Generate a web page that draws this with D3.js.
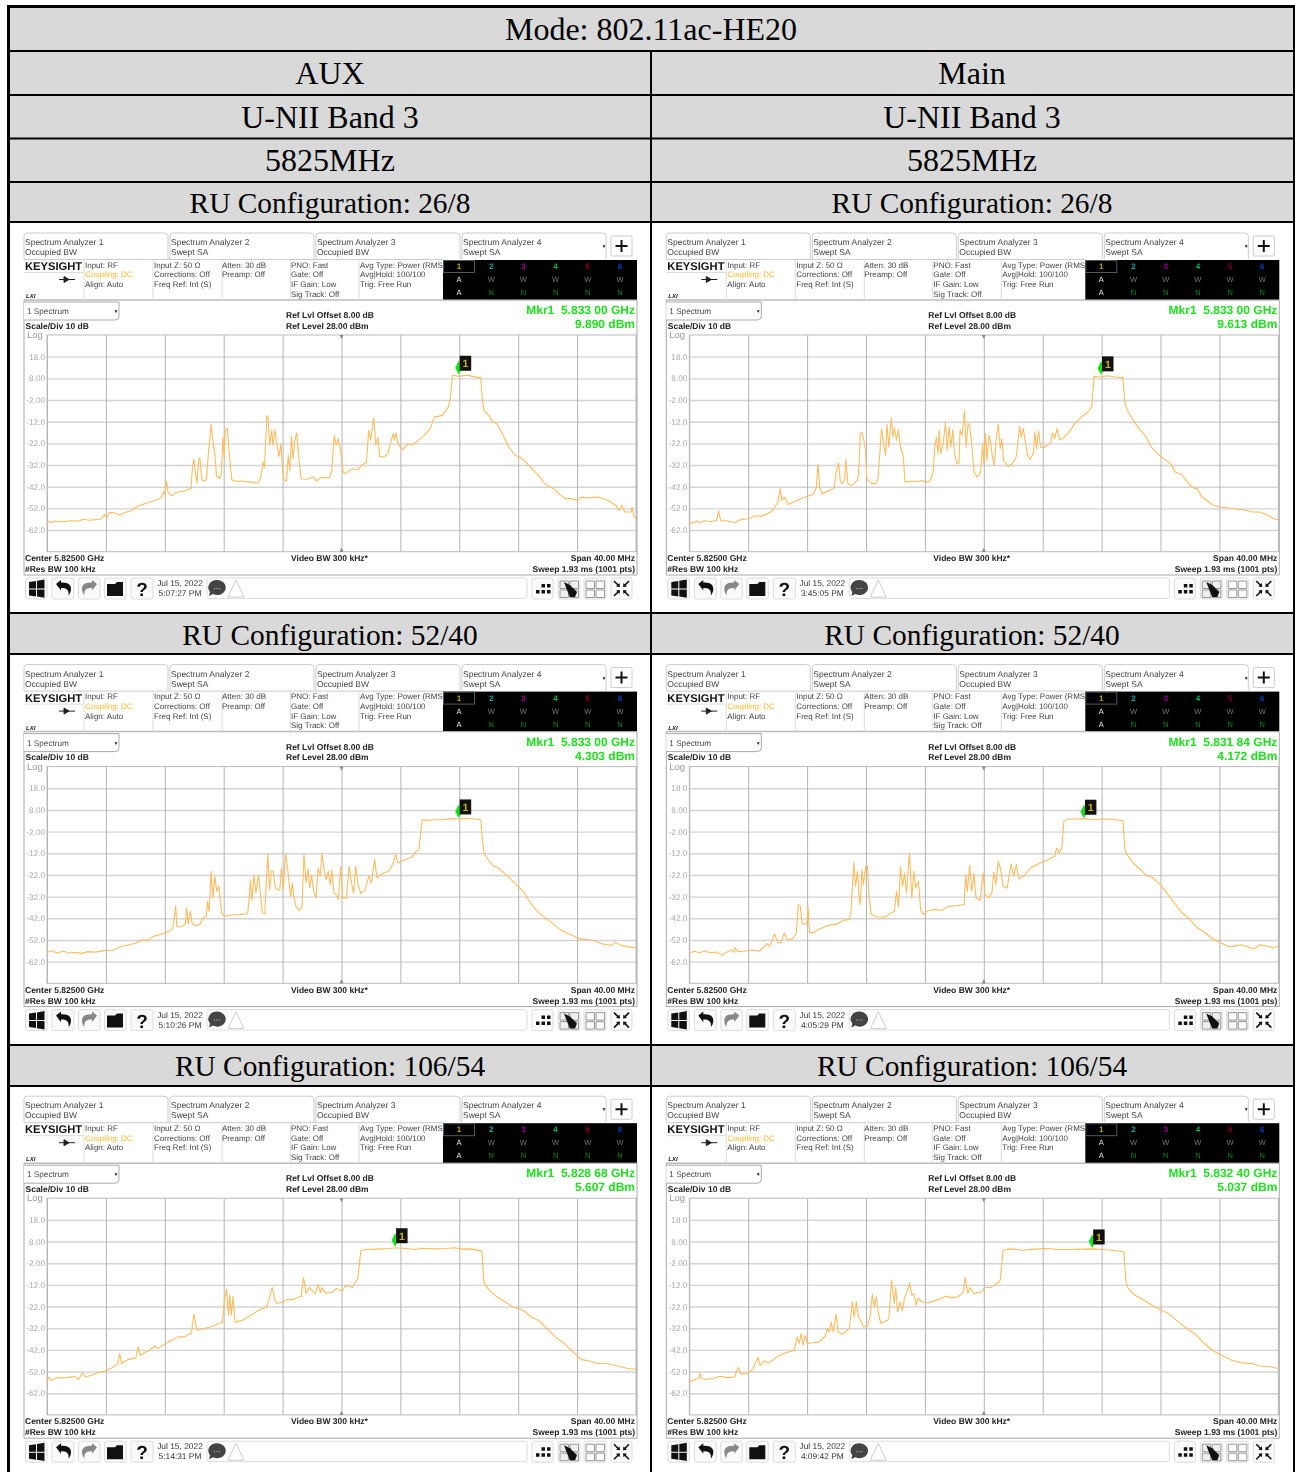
<!DOCTYPE html>
<html>
<head>
<meta charset="utf-8">
<title>Mode: 802.11ac-HE20</title>
<script src="https://cdn.jsdelivr.net/npm/d3@7"></script>
<style>
  html, body { margin: 0; padding: 0; background: #fff; }
  svg { display: block; }
  .ui text { font-family: "Liberation Sans", Arial, sans-serif; text-rendering: geometricPrecision; }
  .head text { font-family: "Liberation Serif", "Times New Roman", serif; font-size: 32px; fill: #000; text-anchor: middle; }
  .head text.ru { font-size: 29.4px; }
</style>
</head>
<body>
<div id="chart"></div>
<script>
// -------------------------------
// Data: traces are [MHz from centre, dBm]
// -------------------------------
const aux26 = [[-20,-57.8],[-19.73,-58.5],[-19.45,-57.8],[-18.9,-58.2],[-18.36,-57.7],[-17.81,-57.8],[-17.53,-56.9],[-17.12,-57.5],[-16.71,-57.2],[-16.3,-56.8],[-16.11,-54.8],[-15.95,-56.3],[-15.75,-53.8],[-15.34,-54.2],[-15.12,-55.2],[-14.66,-53.8],[-14.25,-53.1],[-13.97,-51.4],[-13.53,-50.2],[-13.15,-49.4],[-12.74,-48.5],[-12.27,-47.2],[-12.11,-44.5],[-12,-45.5],[-11.89,-39.4],[-11.78,-44.5],[-11.56,-46.2],[-11.23,-44.6],[-10.68,-44],[-10.22,-42.8],[-10.14,-34.5],[-10.03,-29.2],[-9.92,-36],[-9.81,-40.3],[-9.7,-29.9],[-9.62,-28.6],[-9.53,-36],[-9.42,-39.4],[-9.18,-38.8],[-9.04,-26.8],[-8.85,-13.2],[-8.77,-19.1],[-8.6,-27.1],[-8.49,-37],[-8.27,-38.2],[-8.16,-36],[-8.05,-19.1],[-7.97,-28.3],[-7.89,-16],[-7.75,-15.1],[-7.62,-26.8],[-7.45,-38.8],[-7.26,-39.5],[-6.85,-39.4],[-6.44,-39.7],[-6.03,-40],[-5.67,-40.3],[-5.48,-37.5],[-5.32,-30.6],[-5.23,-33.2],[-5.07,-9.2],[-4.99,-9.9],[-4.88,-22.9],[-4.74,-16],[-4.66,-22.9],[-4.52,-15.7],[-4.38,-22.9],[-4.25,-28],[-4.11,-22.2],[-4,-34.5],[-3.89,-39.1],[-3.73,-39.4],[-3.62,-27.5],[-3.51,-34.5],[-3.4,-18.8],[-3.29,-29.1],[-3.18,-20.6],[-3.04,-17.2],[-2.9,-29.1],[-2.74,-38.3],[-2.33,-38.6],[-1.92,-37.5],[-1.7,-39.4],[-1.37,-37.7],[-0.82,-38],[-0.66,-34.5],[-0.49,-18.3],[-0.36,-22.9],[-0.22,-19.9],[-0.05,-26],[0.11,-35.2],[0.27,-36],[0.55,-34.5],[0.82,-33.7],[1.1,-34.2],[1.37,-32.2],[1.7,-30.6],[1.84,-16],[1.97,-20.6],[2.19,-10.2],[2.33,-22.9],[2.47,-19.4],[2.6,-28],[2.88,-28.3],[3.15,-26.8],[3.29,-22.9],[3.51,-17.5],[3.59,-20.6],[3.7,-17.2],[3.84,-22.2],[4.16,-24.9],[4.52,-22.2],[4.79,-22.9],[5.21,-20.6],[5.62,-18.3],[6.03,-15.2],[6.3,-9.9],[6.85,-9.1],[7.26,-5.2],[7.4,-0.6],[7.53,9.4],[7.95,8.9],[8.49,9.5],[8.9,8.9],[9.45,8.2],[9.59,-3.7],[9.67,-6.8],[10,-9.1],[10.27,-12.2],[10.55,-13],[10.96,-17.9],[11.29,-22.9],[11.78,-27.5],[12.19,-28.6],[12.6,-31.4],[13.01,-34.2],[13.42,-37.1],[13.84,-41],[14.38,-42.8],[14.79,-45.5],[15.21,-47.5],[15.62,-47.5],[16.03,-48.3],[16.3,-46.8],[16.71,-47.2],[17.4,-46.8],[18.08,-48.3],[18.63,-50.6],[18.85,-52.9],[19.04,-50.6],[19.23,-53.7],[19.67,-53.7],[19.73,-51.4],[19.86,-55.7],[20,-56.9]];

const main26 = [[-20,-58.3],[-19.73,-58.8],[-19.51,-57.8],[-19.29,-58.6],[-18.96,-57.7],[-18.55,-58.2],[-18.14,-57.5],[-18.01,-53.2],[-17.87,-57.7],[-17.46,-57.7],[-16.91,-58.5],[-16.5,-57.1],[-15.96,-56.8],[-15.55,-55.4],[-15.14,-55.7],[-14.59,-54.2],[-14.32,-52.9],[-14.18,-51.4],[-13.99,-49.1],[-13.83,-42.9],[-13.72,-48.3],[-13.55,-46.8],[-13.28,-50.2],[-12.68,-48.3],[-12.13,-46.8],[-11.58,-45.5],[-11.37,-42.2],[-11.26,-31.7],[-11.15,-42.2],[-10.98,-45.2],[-10.49,-43.7],[-10.16,-42.5],[-10.03,-35.2],[-9.86,-31.1],[-9.75,-39.1],[-9.62,-40.6],[-9.45,-39.1],[-9.37,-29.5],[-9.23,-40.6],[-8.99,-41.5],[-8.58,-39.1],[-8.5,-36],[-8.39,-17.5],[-8.28,-16.8],[-8.14,-20.6],[-8.03,-25.2],[-7.95,-38.3],[-7.62,-40.6],[-7.35,-40.6],[-7.19,-38.3],[-7.08,-28.3],[-6.94,-15.2],[-6.8,-22.2],[-6.67,-27.5],[-6.58,-13.2],[-6.45,-23.7],[-6.28,-10.2],[-6.17,-19.1],[-6.07,-14.8],[-5.93,-20.6],[-5.79,-15.7],[-5.66,-23.7],[-5.46,-28.3],[-5.36,-39.9],[-4.89,-39.4],[-4.48,-39.7],[-4.21,-39.1],[-3.93,-39.9],[-3.66,-39.4],[-3.44,-35.2],[-3.33,-23.7],[-3.22,-19.1],[-3.11,-26.8],[-3.03,-16],[-2.92,-26.8],[-2.76,-22.2],[-2.6,-12.2],[-2.49,-25.2],[-2.35,-14.5],[-2.24,-23.7],[-2.1,-15.7],[-1.99,-26.8],[-1.83,-31.4],[-1.69,-31.4],[-1.61,-15.7],[-1.48,-18.3],[-1.31,-7.1],[-1.2,-23.7],[-1.07,-12.9],[-0.96,-13.7],[-0.82,-22.2],[-0.66,-35.2],[-0.44,-37.8],[-0.22,-35.2],[-0.08,-22.2],[0,-31.4],[0.11,-17.5],[0.22,-29.8],[0.33,-18.3],[0.44,-20.6],[0.57,-27.5],[0.71,-32.2],[0.85,-19.1],[0.98,-13.2],[1.12,-24.5],[1.23,-19.8],[1.34,-29.8],[1.67,-32.6],[1.94,-31.4],[2.21,-28.3],[2.43,-14.2],[2.54,-19.1],[2.68,-15.2],[2.81,-20.6],[2.95,-26.8],[3.14,-29.5],[3.36,-26.8],[3.47,-16.8],[3.58,-24.5],[3.72,-16.3],[3.85,-23.7],[4.04,-24],[4.54,-21.8],[4.67,-17.2],[4.81,-19.8],[4.97,-15.2],[5.14,-20.3],[5.36,-19.8],[5.68,-17.5],[5.96,-15.2],[6.17,-12.9],[6.58,-10.2],[7.13,-7.1],[7.32,-5.2],[7.49,8.9],[7.95,8.6],[8.36,9.2],[8.91,8.6],[9.45,8.2],[9.59,-3.7],[9.73,-6.5],[10.14,-11.4],[10.55,-15.2],[10.96,-18.3],[11.37,-23.7],[11.91,-27.5],[12.32,-29.5],[12.73,-31.7],[13,-35.2],[13.42,-36.3],[13.83,-39.9],[14.23,-42.6],[14.51,-42.9],[14.78,-46.5],[15.19,-48.6],[15.6,-50.6],[16.01,-51.4],[16.56,-51.7],[17.1,-52.3],[17.65,-52.6],[18.2,-53.7],[18.74,-53.7],[19.29,-55.2],[19.7,-56.8],[20,-57.2]];

const aux52 = [[-20,-57.7],[-19.67,-57],[-19.32,-58],[-18.9,-57.2],[-18.49,-58],[-18.08,-57.7],[-17.67,-58.2],[-17.26,-57.4],[-16.71,-57.6],[-16.03,-56.8],[-15.48,-56.6],[-14.93,-54.9],[-14.38,-54.2],[-13.97,-53.4],[-13.56,-52],[-13.15,-52.2],[-12.74,-50.3],[-12.19,-49.2],[-11.59,-47.6],[-11.45,-46],[-11.34,-41.1],[-11.26,-36.2],[-11.18,-46],[-10.82,-45.7],[-10.6,-44.5],[-10.52,-37.2],[-10.41,-44.5],[-10.27,-38.8],[-10.14,-44.5],[-9.86,-45.4],[-9.59,-44.5],[-9.45,-42.2],[-9.18,-41.1],[-9.1,-34.2],[-8.99,-38.8],[-8.85,-20.3],[-8.74,-32.6],[-8.6,-22.9],[-8.47,-29.6],[-8.33,-27.2],[-8.22,-34.9],[-8.11,-40.3],[-7.95,-41.1],[-7.53,-40.5],[-6.99,-40.3],[-6.38,-39.9],[-6.27,-33.4],[-6.19,-24.2],[-6.08,-33.7],[-5.95,-22],[-5.81,-30.3],[-5.64,-22],[-5.51,-30.3],[-5.37,-39.6],[-5.21,-39.9],[-5.1,-24.2],[-5.01,-12.2],[-4.88,-28.8],[-4.77,-20.3],[-4.63,-20.3],[-4.52,-27.2],[-4.33,-29.1],[-4.19,-28.8],[-4.08,-18.8],[-3.95,-29.1],[-3.81,-12.2],[-3.67,-18],[-3.56,-25.7],[-3.45,-31.9],[-3.34,-25.7],[-3.23,-31.9],[-3.1,-36.5],[-2.9,-38.3],[-2.68,-36.5],[-2.55,-12.5],[-2.41,-25.7],[-2.27,-19.2],[-2.16,-28],[-2.03,-22],[-1.89,-29.6],[-1.73,-32.6],[-1.59,-18.8],[-1.45,-22.6],[-1.32,-11.9],[-1.18,-19.6],[-1.04,-24.2],[-0.9,-20.3],[-0.77,-26.5],[-0.66,-19.6],[-0.52,-30.3],[-0.36,-31.1],[-0.22,-33.4],[-0.05,-18],[0.08,-32.6],[0.33,-32.6],[0.52,-18],[0.68,-25.7],[0.82,-30.3],[0.96,-18],[1.12,-26.5],[1.32,-30.6],[1.59,-29.1],[1.86,-22.3],[2.03,-25.7],[2.25,-14.9],[2.41,-23.4],[2.63,-21.9],[3.01,-20.8],[3.29,-19.6],[3.51,-16.5],[3.67,-12.5],[3.84,-16.5],[4.25,-15.2],[4.79,-13.7],[5.07,-11.1],[5.26,-10.3],[5.48,3.5],[5.75,3.2],[6.3,3.5],[6.85,3.5],[7.4,4],[7.95,3.8],[8.49,4.1],[9.04,3.8],[9.45,3.4],[9.59,-7.2],[9.67,-12.2],[10,-15.2],[10.27,-17.7],[10.68,-18.9],[11.1,-21.4],[11.51,-24.2],[12.05,-27.6],[12.38,-30],[12.66,-33.1],[13.01,-36.5],[13.37,-39.3],[13.84,-41.9],[14.25,-43.9],[14.79,-46.9],[15.29,-48.8],[15.7,-49.9],[16.11,-51.4],[16.79,-51.9],[17.34,-52.6],[17.62,-53.7],[18.03,-54.2],[18.3,-54.5],[18.6,-53.1],[18.99,-54.5],[19.53,-55.2],[20,-55.7]];

const main52 = [[-20,-58],[-19.64,-57.2],[-19.32,-57.9],[-18.96,-57],[-18.63,-57.9],[-18.14,-57.6],[-17.79,-59.1],[-17.46,-57.7],[-17.16,-56.6],[-16.97,-57.7],[-16.89,-55.4],[-16.72,-57.4],[-16.23,-57.1],[-15.68,-56.6],[-15.27,-57.2],[-15,-55.7],[-14.73,-53.7],[-14.54,-54.9],[-14.21,-49.2],[-13.99,-53.1],[-13.77,-53.4],[-13.55,-48.8],[-13.33,-51.9],[-12.95,-51.4],[-12.73,-48.8],[-12.6,-35.7],[-12.46,-36.2],[-12.35,-44.2],[-12.13,-44.9],[-12.02,-44.2],[-11.94,-36.8],[-11.83,-48.5],[-11.64,-48.8],[-11.17,-46.9],[-10.63,-45.4],[-9.95,-44.6],[-9.54,-42.9],[-9.13,-42.6],[-9.02,-38.8],[-8.91,-25.7],[-8.83,-16.2],[-8.72,-27.2],[-8.58,-20.3],[-8.47,-31.9],[-8.39,-35.7],[-8.28,-19.6],[-8.17,-26.5],[-8.03,-18],[-7.9,-18],[-7.79,-31.9],[-7.65,-40.3],[-7.21,-41.4],[-6.67,-41.4],[-6.34,-39.6],[-6.07,-38.8],[-5.93,-29.6],[-5.79,-36.5],[-5.66,-18.3],[-5.52,-27.2],[-5.38,-21.1],[-5.25,-30.3],[-5.05,-11.9],[-4.89,-32.6],[-4.75,-20.3],[-4.62,-28],[-4.43,-24.9],[-4.29,-38],[-4.1,-40.3],[-3.8,-38.5],[-3.39,-38],[-2.84,-38.3],[-2.43,-36.5],[-1.89,-36.2],[-1.34,-35.7],[-1.23,-21.9],[-1.12,-29.6],[-0.96,-17.7],[-0.82,-29.6],[-0.68,-21.4],[-0.52,-32.6],[-0.25,-33.7],[-0.05,-21.1],[0.08,-31.1],[0.33,-32.6],[0.55,-30.3],[0.68,-20.8],[0.82,-26.5],[0.98,-15.7],[1.15,-19.6],[1.31,-27.2],[1.58,-28],[1.86,-16.8],[2.02,-22.6],[2.21,-17.2],[2.4,-23.9],[2.76,-22.3],[3.17,-18.8],[3.85,-16.5],[4.4,-14.9],[4.81,-13.4],[4.95,-9.6],[5.14,-11.9],[5.3,-9.6],[5.44,2.8],[5.77,3.8],[6.31,3.8],[6.86,4],[7.4,3.5],[8.09,3.8],[8.77,3.7],[9.45,3],[9.59,-10.3],[9.73,-12.6],[10.14,-16.5],[10.55,-18.9],[10.96,-21.9],[11.5,-23.4],[12.05,-26.9],[12.46,-30.6],[12.87,-34.2],[13.42,-39.2],[13.96,-42.2],[14.51,-46.5],[15.05,-48.8],[15.46,-51.1],[16.01,-53.1],[16.69,-55.2],[17.51,-54.2],[18.33,-56.2],[18.74,-54.2],[19.29,-54.9],[19.7,-55.7],[20,-54.5]];

const aux106 = [[-20,-55.7],[-19.86,-54.5],[-19.73,-56],[-19.32,-54.9],[-18.63,-54.8],[-18.14,-54.2],[-17.86,-55.7],[-17.59,-52.6],[-17.4,-54.5],[-16.99,-53.7],[-16.58,-52.6],[-16.03,-51.7],[-15.62,-50.3],[-15.21,-48.6],[-15.07,-43.7],[-14.93,-48.3],[-14.52,-46.5],[-13.97,-45.7],[-13.81,-40.6],[-13.67,-44.5],[-13.15,-42.5],[-12.66,-40.2],[-12.47,-41.4],[-12.05,-39.4],[-11.51,-37.5],[-11.1,-36],[-10.68,-36],[-10.19,-34.2],[-10.03,-25.5],[-9.81,-32.9],[-9.32,-32.1],[-8.77,-31.1],[-8.08,-29.1],[-7.95,-19.1],[-7.81,-13.8],[-7.67,-26],[-7.59,-16.8],[-7.48,-26],[-7.37,-17.2],[-7.23,-29.2],[-6.71,-28.3],[-6.16,-26],[-5.62,-23.7],[-5.07,-22.2],[-4.88,-17.5],[-4.71,-13.2],[-4.52,-19.1],[-4.38,-20.6],[-3.97,-19.8],[-3.7,-18.8],[-3.29,-18.8],[-2.74,-17.2],[-2.58,-8.6],[-2.41,-16],[-2.19,-13.2],[-1.97,-14.8],[-1.78,-16],[-1.59,-11.7],[-1.42,-15.7],[-1.32,-13.2],[-1.1,-15.7],[-0.68,-15.5],[-0.36,-13.7],[0.05,-14.8],[0.27,-12.3],[0.74,-13.2],[1.1,-9.1],[1.32,4],[1.64,4.3],[2.47,4.5],[3.29,4.8],[3.7,5.1],[4.38,4.8],[4.93,4.3],[5.48,4.9],[6.3,4.6],[7.12,4.8],[7.67,5.1],[8.22,4.5],[8.77,4.6],[9.53,3.7],[9.67,-10.6],[10,-14.2],[10.55,-17.5],[11.1,-19.8],[11.64,-22.2],[12.33,-23.7],[12.88,-26.8],[13.42,-28.6],[13.92,-32.1],[14.52,-36],[15.07,-38.8],[15.75,-43.2],[16.3,-46.5],[16.85,-47.1],[17.4,-48.3],[17.95,-48.3],[18.63,-49.2],[19.45,-50.6],[20,-50.9]];

const main106 = [[-20,-56.8],[-19.64,-55.7],[-19.34,-55.2],[-19.26,-52.9],[-19.15,-55.2],[-18.83,-55.7],[-18.42,-55.2],[-17.87,-54.2],[-17.46,-54.8],[-16.91,-54.5],[-16.78,-51.4],[-16.64,-50.2],[-16.5,-53.2],[-16.01,-52.9],[-15.68,-50.6],[-15.33,-45.5],[-15.19,-49.1],[-14.92,-47.1],[-14.59,-48],[-14.04,-45.2],[-13.5,-43.4],[-12.87,-42.1],[-12.68,-36],[-12.54,-39.1],[-12.4,-34.5],[-12.27,-39.8],[-12.13,-35.2],[-11.99,-39.1],[-11.8,-38.8],[-11.17,-38.3],[-10.77,-35.7],[-10.63,-32.2],[-10.49,-33.7],[-10.36,-29.1],[-10.22,-33.7],[-10.03,-25.5],[-9.89,-33.7],[-9.62,-34.8],[-9.13,-32.1],[-8.93,-19.8],[-8.8,-26.8],[-8.66,-19.8],[-8.52,-26.8],[-8.36,-28.3],[-8.17,-31.4],[-7.9,-31.1],[-7.7,-26],[-7.57,-16.3],[-7.43,-22.2],[-7.3,-17.5],[-7.16,-25.2],[-6.99,-29.8],[-6.45,-28],[-6.26,-9.8],[-6.09,-20.6],[-5.98,-13.2],[-5.85,-24.5],[-5.68,-19.8],[-5.52,-24],[-5.38,-17.5],[-5.25,-16],[-5.03,-11.1],[-4.89,-16.8],[-4.75,-16],[-4.59,-21.4],[-4.48,-18.3],[-4.21,-19.8],[-3.8,-20.3],[-3.11,-18.8],[-2.57,-17.2],[-2.16,-18],[-1.75,-17.5],[-1.42,-15.7],[-1.26,-8.6],[-1.09,-16],[-0.93,-13.2],[-0.66,-16],[-0.11,-15.2],[0.03,-13.2],[0.44,-13.2],[0.85,-11.7],[1.12,-9.8],[1.31,4],[1.8,4.6],[2.62,4],[3.44,4.5],[4.26,4.8],[5.08,4.3],[5.9,4.3],[6.72,4.5],[7.4,4.6],[8.09,4.3],[8.77,4],[9.51,3.2],[9.64,-9.8],[9.78,-13.2],[10.14,-16.3],[10.68,-18.3],[11.23,-20.6],[11.91,-23.1],[12.6,-25.5],[13.14,-28.6],[13.69,-31.7],[14.37,-34.8],[14.92,-38.8],[15.6,-42.5],[16.15,-44.5],[16.83,-46.8],[17.51,-48],[18.2,-48.3],[18.74,-49.4],[19.43,-49.8],[20,-50.6]];

const traces = [aux26, main26, aux52, main52, aux106, main106];
const mkrFreqGHz = [5.83300, 5.83300, 5.83300, 5.83184, 5.82868, 5.83240];
const mkrLevel = [9.890, 9.613, 4.303, 4.172, 5.607, 5.037];
const timeLabels = ['5:07:27 PM', '3:45:05 PM', '5:10:26 PM', '4:05:29 PM', '5:14:31 PM', '4:09:42 PM'];

const levelTicks = [18, 8, -2, -12, -22, -32, -42, -52, -62];
const levelLabels = ['18.0', '8.00', '-2.00', '-12.0', '-22.0', '-32.0', '-42.0', '-52.0', '-62.0'];
const freqTicks = [-20, -16, -12, -8, -4, 0, 4, 8, 12, 16, 20];

const colTitles = ['AUX', 'Main'];
const bandTitle = 'U-NII Band 3';
const chanTitle = '5825MHz';
const ruTitles = ['RU Configuration: 26/8', 'RU Configuration: 52/40', 'RU Configuration: 106/54'];

// -------------------------------
// Page and table
// -------------------------------
const W = 1295, H = 1472;
const svg = d3.select('#chart').append('svg').attr('width', W).attr('height', H);

const colX = [9, 651, 1294];
const colMid = [330, 972];
const head = svg.append('g').attr('class', 'head');

function band(y0, y1) {
  head.append('rect').attr('x', colX[0]).attr('y', y0).attr('width', colX[2] - colX[0]).attr('height', y1 - y0).attr('fill', '#d9d9d9');
}
band(7, 222); band(613, 654); band(1045, 1086);

head.append('text').attr('x', 651).attr('y', 40).text('Mode: 802.11ac-HE20');
colMid.forEach((x, c) => {
  head.append('text').attr('x', x).attr('y', 84).text(colTitles[c]);
  head.append('text').attr('x', x).attr('y', 127.5).text(bandTitle);
  head.append('text').attr('x', x).attr('y', 171).text(chanTitle);
  head.append('text').attr('class', 'ru').attr('x', x).attr('y', 212.5).text(ruTitles[0]);
  head.append('text').attr('class', 'ru').attr('x', x).attr('y', 644.5).text(ruTitles[1]);
  head.append('text').attr('class', 'ru').attr('x', x).attr('y', 1076).text(ruTitles[2]);
});

// -------------------------------
// One analyzer screenshot
// -------------------------------
const plotLeft = 47, plotRight = 636, plotTop = 335, plotBottom = 551.7;
const xScale = d3.scaleLinear().domain([-20, 20]).range([plotLeft, plotRight]);
const yScale = d3.scaleLinear().domain([28, -72]).range([plotTop, plotBottom]);
const line = d3.line().x(d => xScale(d[0])).y(d => yScale(d[1]));

const traceColors = ['#b8a800', '#00a5a5', '#a000a0', '#00b050', '#8a0030', '#0040b0'];
const infoCols = [
  [85, ['Input: RF', 'Coupling: DC', 'Align: Auto']],
  [154, ['Input Z: 50 Ω', 'Corrections: Off', 'Freq Ref: Int (S)']],
  [222, ['Atten: 30 dB', 'Preamp: Off']],
  [291, ['PNO: Fast', 'Gate: Off', 'IF Gain: Low', 'Sig Track: Off']],
  [360, ['Avg Type: Power (RMS)', 'Avg|Hold: 100/100', 'Trig: Free Run']]
];
const tabs = [['Spectrum Analyzer 1', 'Occupied BW'], ['Spectrum Analyzer 2', 'Swept SA'], ['Spectrum Analyzer 3', 'Occupied BW'], ['Spectrum Analyzer 4', 'Swept SA']];

function label(g, x, y, str, opts = {}) {
  return g.append('text').attr('x', x).attr('y', y)
    .attr('font-size', opts.size || 8.5)
    .attr('font-weight', opts.bold ? 'bold' : 'normal')
    .attr('font-style', opts.italic ? 'italic' : 'normal')
    .attr('text-anchor', opts.anchor || 'start')
    .attr('fill', opts.fill || '#333')
    .text(str);
}

function button(g, x, w) {
  g.append('rect').attr('x', x).attr('y', 578).attr('width', w).attr('height', 21).attr('rx', 2)
    .attr('fill', '#fafafa').attr('stroke', '#ddd');
}

function drawPanel(i) {
  const row = Math.floor(i / 2), col = i % 2;
  const g = svg.append('g').attr('class', 'ui')
    .attr('transform', `translate(${col * 642.3},${row * 431.6})`)
    .style('filter', 'blur(0.4px)');

  // tabs
  tabs.forEach((t, k) => {
    const x = 24 + k * 146;
    g.append('path').attr('d', `M${x},259V236q0,-3 3,-3H${x + 140}q4,0 4,3V259`)
      .attr('fill', 'none').attr('stroke', '#ccc');
    label(g, x + 1, 245, t[0], { size: 8.5, fill: '#444' });
    label(g, x + 1, 255, t[1], { size: 8.5, fill: '#444' });
  });
  label(g, 604, 248, '▼', { size: 5, fill: '#222', anchor: 'middle' });
  g.append('rect').attr('x', 611).attr('y', 236).attr('width', 21).attr('height', 20).attr('rx', 1).attr('fill', '#fff').attr('stroke', '#ccc');
  g.append('path').attr('d', 'M621.5,240v12M615.5,246h12').attr('stroke', '#111').attr('stroke-width', 2);

  // header strip
  g.append('path').attr('d', 'M24,259.5H443').attr('stroke', '#ccc');
  g.append('path').attr('d', 'M24,300H637').attr('stroke', '#bbb').attr('stroke-width', 1.5);
  label(g, 25, 270, 'KEYSIGHT', { size: 11.2, bold: true, fill: '#111' });
  g.append('path').attr('d', 'M24,272.5H84').attr('stroke', '#ddd');
  g.append('path').attr('d', 'M59,279.5H75M64,276.5l5,3l-5,3z').attr('stroke', '#222').attr('fill', '#222');
  label(g, 26, 298, 'LXI', { size: 6, bold: true, italic: true, fill: '#222' });
  [84, 153, 222, 290.5, 359].forEach(x => {
    g.append('path').attr('d', `M${x},260V300`).attr('stroke', '#ddd');
  });
  infoCols.forEach(c => {
    c[1].forEach((s, k) => {
      label(g, c[0], 267.7 + k * 9.7, s, { size: 8, fill: s === 'Coupling: DC' ? '#fdb92e' : '#444' });
    });
  });

  // trace table
  g.append('rect').attr('x', 443).attr('y', 260).attr('width', 194).attr('height', 39.5).attr('fill', '#000');
  g.append('rect').attr('x', 443.5).attr('y', 260.5).attr('width', 31).attr('height', 12).attr('fill', 'none').attr('stroke', '#4a5a60');
  traceColors.forEach((c, k) => {
    const x = 459 + k * 32.2;
    label(g, x, 269, k + 1, { size: 8, anchor: 'middle', fill: c, bold: true });
    label(g, x, 282, k === 0 ? 'A' : 'W', { size: 7.5, anchor: 'middle', fill: k === 0 ? '#e8e8e8' : '#777' });
    label(g, x, 295, k === 0 ? 'A' : 'N', { size: 7.5, anchor: 'middle', fill: k === 0 ? '#e8e8e8' : '#0a8a0a' });
  });

  // window frame
  g.append('path').attr('d', 'M24,300V575H637V300').attr('fill', 'none').attr('stroke', '#aaa');
  g.append('path').attr('d', 'M24,302H119V316q0,4 -4,4H24').attr('fill', '#fff').attr('stroke', '#aaa');
  label(g, 27, 314, '1 Spectrum', { size: 8.2, fill: '#444' });
  label(g, 116, 313, '▼', { size: 5, anchor: 'middle', fill: '#222' });
  label(g, 25.5, 328.5, 'Scale/Div 10 dB', { bold: true, fill: '#222' });
  label(g, 27, 338, 'Log', { size: 9.5, fill: '#999' });
  label(g, 286, 318, 'Ref Lvl Offset 8.00 dB', { bold: true, fill: '#222' });
  label(g, 286, 328.5, 'Ref Level 28.00 dBm', { bold: true, fill: '#222' });

  // marker readout
  const fs = mkrFreqGHz[i].toFixed(5);
  label(g, 635, 314, `Mkr1  ${fs.slice(0, 5)} ${fs.slice(5)} GHz`, { size: 12, bold: true, fill: '#1ee01e', anchor: 'end' }).attr('xml:space', 'preserve');
  label(g, 635, 328, `${mkrLevel[i].toFixed(3)} dBm`, { size: 12, bold: true, fill: '#1ee01e', anchor: 'end' });

  // axes used as the graticule
  const yAxis = d3.axisLeft(yScale).tickValues(levelTicks).tickSize(-(plotRight - plotLeft)).tickPadding(2)
    .tickFormat((d, k) => levelLabels[k]);
  const xAxis = d3.axisBottom(xScale).tickValues(freqTicks).tickSize(plotBottom - plotTop).tickFormat('');
  const gy = g.append('g').attr('transform', `translate(${plotLeft},0)`).call(yAxis);
  gy.selectAll('.tick line').attr('stroke', '#d4d4d4').attr('stroke-width', 1.4);
  gy.selectAll('.tick text').attr('font-size', 8.2).attr('fill', '#a8a8a8').attr('font-family', '"Liberation Sans", Arial, sans-serif');
  gy.select('.domain').remove();
  const gx = g.append('g').attr('transform', `translate(0,${plotTop})`).call(xAxis);
  gx.selectAll('.tick line').attr('stroke', '#b4b4b4').attr('stroke-width', 1);
  gx.select('.domain').remove();
  g.append('rect').attr('x', plotLeft).attr('y', plotTop).attr('width', plotRight - plotLeft).attr('height', plotBottom - plotTop)
    .attr('fill', 'none').attr('stroke', '#bbb');
  const cx = xScale(0);
  g.append('path').attr('d', `M${cx - 2},${plotTop}h4l-2,4z M${cx - 2},${plotBottom}h4l-2,-4z`).attr('fill', '#888');

  // trace
  g.append('path').datum(traces[i]).attr('d', line)
    .attr('fill', 'none').attr('stroke', '#fcbc5f').attr('stroke-width', 1.1).attr('stroke-linejoin', 'round');

  // marker
  const mx = xScale((mkrFreqGHz[i] - 5.825) * 1000) - 0.6, my = yScale(mkrLevel[i]);
  g.append('path').attr('d', `M${mx},${my}l-3.5,-6.5l3.5,-7l3.5,7z`).attr('fill', '#12e01a');
  g.append('rect').attr('x', mx + 1).attr('y', my - 18.5).attr('width', 11.5).attr('height', 15).attr('fill', '#111');
  label(g, mx + 6.8, my - 7, '1', { size: 10.5, bold: true, anchor: 'middle', fill: '#c9b800' });

  // bottom annotations
  label(g, 25, 561, 'Center 5.82500 GHz', { bold: true, fill: '#222' });
  label(g, 25, 572, '#Res BW 100 kHz', { bold: true, fill: '#222' });
  label(g, 291, 561, 'Video BW 300 kHz*', { bold: true, fill: '#222' });
  label(g, 635, 561, 'Span 40.00 MHz', { bold: true, fill: '#222', anchor: 'end' });
  label(g, 635, 572, 'Sweep 1.93 ms (1001 pts)', { bold: true, fill: '#222', anchor: 'end' });

  // toolbar
  [[25.5, 21.5], [52, 22], [78.5, 21.5], [104.5, 21.5], [131, 22], [532, 21], [558, 22], [584, 22], [611, 21]].forEach(b => button(g, b[0], b[1]));
  g.append('path').attr('d', 'M29,582l7,-1v7.5h-7zM37,580.8l7.5,-1.3v9h-7.5zM29,589.5h7v7l-7,-1zM37,589.5h7.5v8.3l-7.5,-1.2z').attr('fill', '#111');
  g.append('path').attr('d', 'M56,584l5,-4v2.6c8,-0.5 10,3 10,6.2c0,3 -1,5 -2.5,6.7c0.7,-4.5 -1,-8 -7.5,-7.5v2.6z').attr('fill', '#111');
  g.append('path').attr('d', 'M97,584l-5,-4v2.6c-8,-0.5 -10,3 -10,6.2c0,3 1,5 2.5,6.7c-0.7,-4.5 1,-8 7.5,-7.5v2.6z').attr('fill', '#888');
  g.append('path').attr('d', 'M107,584h8l2,-2h6v14h-16z').attr('fill', '#111');
  label(g, 142, 596, '?', { size: 19, bold: true, anchor: 'middle', fill: '#111' });
  label(g, 180, 586, 'Jul 15, 2022', { size: 8.4, anchor: 'middle', fill: '#333' });
  label(g, 180, 596, timeLabels[i], { size: 8.4, anchor: 'middle', fill: '#333' });
  g.append('rect').attr('x', 207).attr('y', 578).attr('width', 320).attr('height', 20.5).attr('rx', 2).attr('fill', '#fff').attr('stroke', '#ddd');
  g.append('path').attr('d', 'M217,580a8.5,7.5 0 1 1 -4,14l-4,2l1,-4a8.5,7.5 0 0 1 7,-12z').attr('fill', '#444');
  g.append('path').attr('d', 'M214,588.5h6').attr('stroke', '#ccc').attr('stroke-dasharray', '1 1.5');
  g.append('path').attr('d', 'M236,580l-8,17h16z').attr('fill', '#fff').attr('stroke', '#ccc');
  g.append('path').attr('d', 'M536,590h3.5v3.5h-3.5zM541.5,590h3.5v3.5h-3.5zM547,590h3.5v3.5h-3.5zM541.5,584h3.5v3.5h-3.5zM547,584h3.5v3.5h-3.5z').attr('fill', '#111');
  g.append('path').attr('d', 'M560,581h8.5v7.5h-8.5zM570,581h8.5v7.5h-8.5zM560,590h8.5v7.5h-8.5zM570,590h8.5v7.5h-8.5z').attr('fill', '#eee').attr('stroke', '#999');
  g.append('path').attr('d', 'M564,582l6,3l7,7l-2,5l-5,0l-3,-7z').attr('fill', '#111');
  g.append('path').attr('d', 'M586,581h8.5v7.5h-8.5zM596,581h8.5v7.5h-8.5zM586,590h8.5v7.5h-8.5zM596,590h8.5v7.5h-8.5z').attr('fill', 'none').attr('stroke', '#999');
  g.append('path').attr('d', 'M614,581l5,5M629,581l-5,5M614,596l5,-5M629,596l-5,-5').attr('stroke', '#111').attr('stroke-width', 1.6);
  g.append('path').attr('d', 'M620,587l-4,-.5l3.5,-3.5zM623,587l4,-.5l-3.5,-3.5zM620,590l-4,.5l3.5,3.5zM623,590l4,.5l-3.5,3.5z').attr('fill', '#111');
}

traces.forEach((t, i) => drawPanel(i));

// -------------------------------
// Table rules on top
// -------------------------------
const rules = svg.append('g').attr('stroke', '#000').attr('fill', 'none');
rules.append('path').attr('d', `M8.5,${H}V6.5H1294.5V${H}`).attr('stroke-width', 3);
[51, 95, 138.5, 182, 222, 613, 654, 1045, 1086].forEach(y => {
  rules.append('path').attr('d', `M8,${y}H1295`).attr('stroke-width', 2);
});
rules.append('path').attr('d', `M651,51V${H}`).attr('stroke-width', 2);
</script>
</body>
</html>
